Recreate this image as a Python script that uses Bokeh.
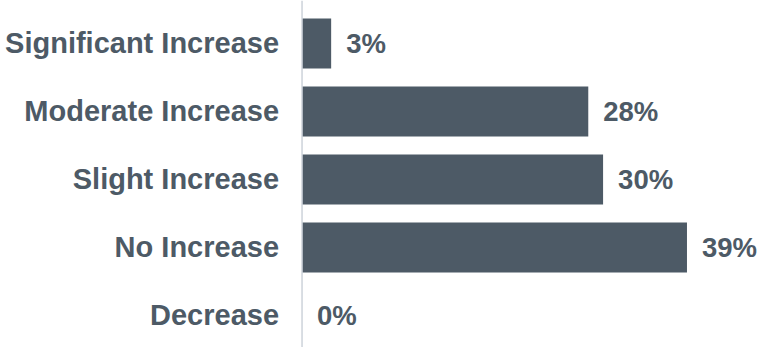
import numpy as np
from bokeh.plotting import figure
from bokeh.models import Range1d, ColumnDataSource, Span
from bokeh.core.properties import value
from bokeh.embed import file_html
from bokeh.resources import INLINE

# bottom to top
categories = ["Decrease", "No Increase", "Slight Increase", "Moderate Increase", "Significant Increase"]
values = [0.0, 39.0, 30.5, 29.0, 2.95]
labels = ["0%", "39%", "30%", "28%", "3%"]

BAR = "#4d5a66"
TXT = "#4d5a66"

pos = np.arange(len(categories))
src = ColumnDataSource(dict(y=pos, v=values, cat=categories, lab=labels))

p = figure(width=761, height=347, output_backend="svg", toolbar_location=None,
           x_range=Range1d(-30.55, 46.55), y_range=Range1d(-0.471, 4.632),
           min_border=0, min_border_left=0, min_border_right=0,
           min_border_top=0, min_border_bottom=0)
p.outline_line_color = None
p.xaxis.visible = False
p.yaxis.visible = False
p.grid.visible = False
p.background_fill_color = "white"
p.border_fill_color = "white"

p.hbar(y="y", right="v", left=0, height=0.735, source=src, color=BAR, line_color=None)

p.add_layout(Span(location=0, dimension="height", line_color="#cdd3da", line_width=1.5))

p.text(x=0, y="y", text="cat", source=src, x_offset=-23, text_align="right",
       text_baseline="middle", text_font=value("Liberation Sans"), text_font_style="bold",
       text_font_size="29px", text_color=TXT)
p.text(x="v", y="y", text="lab", source=src, x_offset=15, text_align="left",
       text_baseline="middle", text_font=value("Liberation Sans"), text_font_style="bold",
       text_font_size="27.5px", text_color=TXT)

open("out.html", "w").write(file_html(p, INLINE))
